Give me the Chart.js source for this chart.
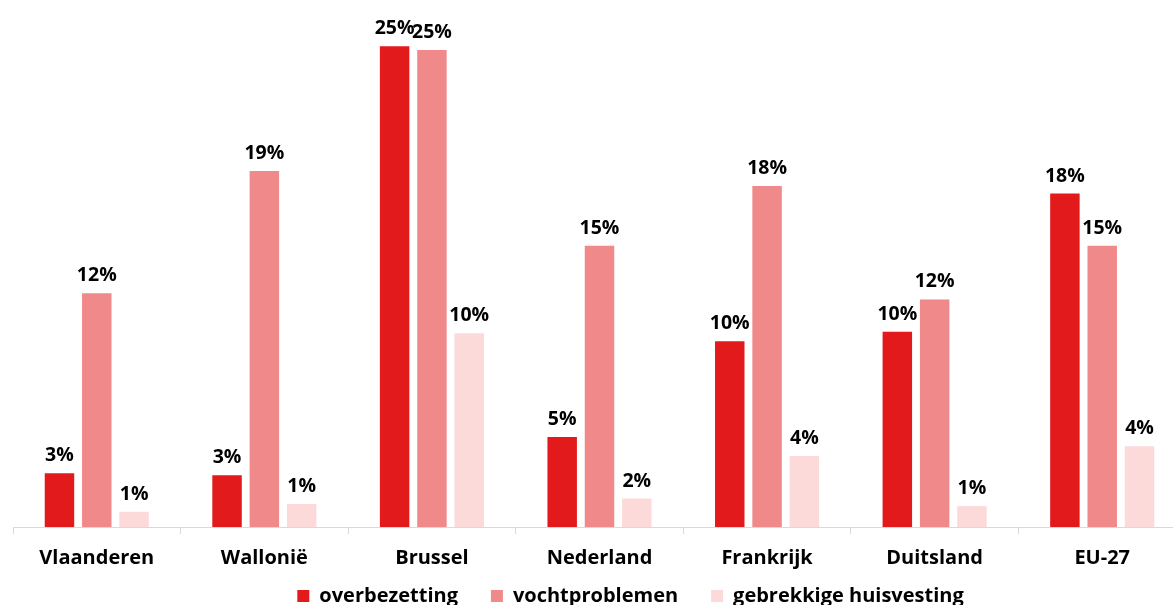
<!DOCTYPE html>
<html>
<head>
<meta charset="utf-8">
<script src="https://cdn.jsdelivr.net/npm/chart.js@4.4.1/dist/chart.umd.min.js"></script>
<style>
  html, body { margin: 0; padding: 0; background: #ffffff; overflow: hidden; }
  #wrap { position: absolute; left: 0; top: 0; width: 1200px; height: 645px; }
</style>
</head>
<body>
<div id="wrap"><canvas id="myChart"></canvas></div>
<script>
// categories and series (percent)
var regions = ['Vlaanderen', 'Wallonië', 'Brussel', 'Nederland', 'Frankrijk', 'Duitsland', 'EU-27'];
var overbezetting = [2.83, 2.72, 25.3, 4.74, 9.77, 10.28, 17.55];
var vochtproblemen = [12.3, 18.74, 25.1, 14.8, 17.95, 11.98, 14.8];
var gebrekkigeHuisvesting = [0.8, 1.21, 10.2, 1.5, 3.74, 1.1, 4.25];

var FONT = "'Open Sans', 'DejaVu Sans', sans-serif";

// percentage labels above every bar
var barLabels = {
    id: 'barLabels',
    afterDatasetsDraw: function(chart) {
        var ctx = chart.ctx;
        ctx.save();
        ctx.font = 'bold 19.5px ' + FONT;
        ctx.fillStyle = '#000000';
        ctx.textAlign = 'center';
        ctx.textBaseline = 'alphabetic';
        chart.data.datasets.forEach(function(ds, i) {
            var meta = chart.getDatasetMeta(i);
            meta.data.forEach(function(bar, j) {
                ctx.fillText(Math.round(ds.data[j]) + '%', bar.x, bar.y - 12);
            });
        });
        ctx.restore();
    }
};

// nudge the legend a bit (it sits off-centre in the original)
var legendShift = {
    id: 'legendShift',
    afterLayout: function(chart) {
        var lg = chart.legend;
        lg.left += 31;
        lg.right += 31;
        lg.top -= 29;
        lg.bottom -= 29;
    }
};

var ctx = document.getElementById('myChart').getContext('2d');
var myChart = new Chart(ctx, {
    type: 'bar',
    data: {
        labels: regions,
        datasets: [{
            label: 'overbezetting',
            data: overbezetting,
            backgroundColor: '#E31A1C'
        }, {
            label: 'vochtproblemen',
            data: vochtproblemen,
            backgroundColor: '#F08A8A'
        }, {
            label: 'gebrekkige huisvesting',
            data: gebrekkigeHuisvesting,
            backgroundColor: '#FDDADA'
        }]
    },
    options: {
        responsive: true,
        maintainAspectRatio: false,
        animation: false,
        categoryPercentage: 0.668,
        barPercentage: 0.79,
        layout: {
            padding: { left: 13, right: 14, top: 14, bottom: 0 }
        },
        plugins: {
            tooltip: { enabled: false },
            legend: {
                position: 'bottom',
                labels: {
                    color: '#000000',
                    boxWidth: 12,
                    boxHeight: 12,
                    padding: 33,
                    font: { family: FONT, size: 20, weight: 'bold' }
                }
            }
        },
        scales: {
            y: {
                display: false,
                min: 0,
                max: 27
            },
            x: {
                grid: {
                    drawOnChartArea: false,
                    color: '#d9d9d9',
                    tickLength: 7
                },
                border: { color: '#d9d9d9', width: 1 },
                ticks: {
                    color: '#000000',
                    padding: 12,
                    font: { family: FONT, size: 20, weight: 'bold' }
                }
            }
        }
    },
    plugins: [barLabels, legendShift]
});
</script>
</body>
</html>
